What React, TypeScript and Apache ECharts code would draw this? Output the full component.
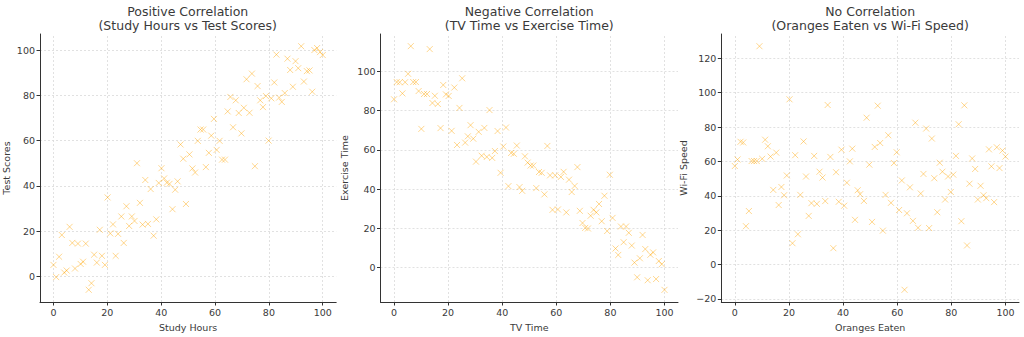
import React, { useEffect, useRef } from "react";
import * as echarts from "echarts";

// ---------- Data ----------
const studyHours = [
  0, 1, 2.1, 3.1, 4, 4.9, 6, 7, 8, 9.1, 10.1, 11, 12, 13.1, 14.1, 15.1, 16.1, 17.2, 18, 19.1,
  20.1, 21.1, 22.1, 23.1, 24, 25.2, 26.1, 27.1, 28.1, 29.1, 30.1, 31, 32.1, 33.1, 34.1, 35.1, 36.1, 37.2, 38.2, 39.1,
  40.1, 41.1, 42.1, 43.1, 44.2, 45.2, 46.1, 47.2, 48.2, 49.2, 50.5, 51.6, 52.6, 53.6, 54.6, 55.6, 56.6, 57.7, 58.6, 59.6,
  60.6, 61.7, 62.6, 63.7, 64.7, 65.7, 66.7, 67.7, 68.8, 69.8, 70.7, 71.7, 72.8, 73.7, 74.8, 75.8, 76.8, 77.8, 78.9, 79.9,
  80.9, 82, 82.8, 83.8, 84.8, 85.9, 86.9, 87.9, 88.9, 89.9, 90.9, 92, 93, 94.1, 95.1, 96.1, 96.9, 97.9, 99, 100,
];
const testScores = [
  5.1, -0.3, 8.7, 18.3, 1.7, 2.6, 21.9, 14.8, 3.5, 14.5, 5.5, 6.5, 14.5, -5.9, -3, 9.6, 6.1, 20.6, 9.1, 5.1,
  34.9, 19, 23, 9.1, 18.8, 26.5, 14.8, 31, 22.3, 26.5, 24.5, 50, 32.5, 22.9, 42.6, 23.2, 38.6, 18, 25.2, 41.3,
  47.8, 43.3, 41.4, 40.9, 29.7, 38.3, 42, 58.3, 52, 32, 53.9, 47.7, 45.9, 59.9, 64.9, 64.9, 48.3, 54.6, 62.2, 69.6,
  55.9, 59.9, 51.6, 51.6, 72.9, 79.3, 65.9, 77.8, 72.2, 63.2, 74.5, 87.1, 72.3, 89.6, 48.7, 84.1, 77.8, 74.8, 79.7, 60,
  78.7, 85.7, 98, 79, 77.1, 81, 96.2, 91.2, 83.8, 95.1, 92, 101.7, 86.1, 90.7, 91, 81.6, 100, 100.9, 99.1, 97.8,
];

const tvTime = [
  0, 1, 2.1, 3.1, 4.1, 5.2, 6.2, 7.1, 8.1, 9.1, 10.1, 11.1, 12.2, 13.2, 14.2, 15.1, 16.2, 17.2, 18.2, 19.2,
  20.2, 21.3, 22.3, 23.3, 24.2, 25.2, 26.3, 27.3, 28.3, 29.3, 30.3, 31.3, 32.4, 33.4, 34.3, 35.3, 36.3, 37.3, 38.3, 39.4,
  40.4, 41.4, 42.3, 43.3, 44.3, 45.4, 46.4, 47.4, 48.4, 49.4, 50.5, 51.5, 52.6, 53.6, 54.6, 55.6, 56.7, 57.7, 58.6, 59.6,
  60.6, 61.7, 62.7, 63.7, 64.7, 65.7, 66.8, 67.8, 68.7, 69.7, 70.7, 71.7, 72.7, 73.8, 74.8, 75.8, 76.8, 77.8, 78.8, 79.8,
  80.8, 81.9, 82.9, 83.9, 84.9, 85.8, 86.8, 87.9, 88.9, 89.9, 90.9, 91.9, 92.9, 93.8, 94.8, 95.8, 96.9, 97.9, 99, 100,
];
const exerciseTime = [
  85.8, 94.6, 94.5, 88.8, 94.5, 98.8, 112.9, 94.6, 94.6, 90, 70.7, 88.5, 88.5, 111.4, 83.9, 87.6, 83.4, 71.1, 93.1, 88.3,
  87.5, 69.7, 91.8, 62.5, 81.4, 96.5, 63.7, 66.9, 72.6, 65.7, 54, 69.2, 57, 71.2, 56.4, 80.3, 55.9, 59.4, 69.6, 48.3,
  61.7, 71.4, 41.5, 58.4, 58, 62.2, 41, 39.1, 56.7, 53.5, 52, 52, 40.5, 48.7, 48.3, 37.3, 62, 47, 29.4, 47,
  29.6, 46.2, 48.8, 28.1, 44.8, 38.5, 41.6, 51.2, 28.9, 22.7, 20.2, 19.9, 26.4, 29.4, 28.1, 32.4, 23.6, 36.6, 18.6, 47.3,
  25.3, 9.7, 6.4, 20.9, 12.9, 20.9, 17.7, 11.2, 2.5, -5, 4.7, 16.6, 9.4, -6.5, 6.5, 7.7, -5.9, 3.3, 1.7, -11.4,
];

const orangesEaten = [
  0, 1, 2.1, 3.1, 4.1, 5.2, 6.2, 7.1, 8.1, 9.1, 10.1, 11.2, 12.2, 13.2, 14.2, 15.3, 16.2, 17.2, 18.2, 19.2,
  20.2, 21.3, 22.3, 23.3, 24.2, 25.4, 26.3, 27.3, 28.3, 29.3, 30.3, 31.3, 32.4, 33.4, 34.3, 35.3, 36.4, 37.4, 38.4, 39.4,
  40.4, 41.4, 42.5, 43.4, 44.4, 45.4, 46.3, 47.7, 48.7, 49.7, 50.7, 51.7, 52.8, 53.7, 54.7, 55.7, 56.7, 57.7, 58.8, 59.8,
  60.7, 61.7, 62.7, 63.6, 64.7, 65.8, 66.7, 67.7, 68.7, 69.7, 70.7, 71.8, 72.8, 73.7, 74.8, 75.7, 76.7, 77.7, 78.8, 79.8,
  80.7, 81.7, 82.7, 83.7, 84.8, 85.8, 86.7, 87.7, 88.8, 89.8, 90.8, 91.9, 92.9, 93.9, 94.8, 95.8, 96.8, 97.8, 98.9, 100,
];
const wifiSpeed = [
  57.3, 61.1, 71.4, 71, 22.3, 31.1, 60.2, 60.2, 60.2, 127, 61.5, 72.6, 68.8, 62.8, 43.4, 65.1, 34.6, 45.1, 40.3, 51.8,
  96.1, 12.4, 63.6, 17.6, 40.5, 71.6, 51.2, 28.3, 35.7, 63.2, 35.3, 54, 50.6, 36.9, 92.8, 62.6, 9.5, 53.7, 36.5, 66.8,
  34.2, 47.6, 60, 67.4, 26, 43.2, 40.9, 37, 85.4, 58.1, 24.8, 68.4, 92.4, 70.7, 19.7, 40.5, 75.2, 35.9, 59, 65.3,
  31.7, 48.9, -14.7, 29.8, 44.9, 25.4, 82.5, 21.4, 41.3, 52.7, 79.1, 21.2, 73.3, 50.2, 30.4, 59.2, 54, 37.8, 51.2, 42.2,
  52.3, 63.2, 81.6, 25.2, 92.6, 11.1, 47, 61.7, 55.6, 37.8, 45.8, 40.3, 38.6, 67, 57.1, 36.3, 68.2, 56.1, 66.3, 62.8,
];

const xTicks = [0, 20, 40, 60, 80, 100];
const scoreTicks = [0, 20, 40, 60, 80, 100];
const exerciseTicks = [0, 20, 40, 60, 80, 100];
const wifiTicks = [-20, 0, 20, 40, 60, 80, 100, 120];

const titles = [
  "Positive Correlation\n(Study Hours vs Test Scores)",
  "Negative Correlation\n(TV Time vs Exercise Time)",
  "No Correlation\n(Oranges Eaten vs Wi-Fi Speed)",
];
const xNames = ["Study Hours", "TV Time", "Oranges Eaten"];
const yNames = ["Test Scores", "Exercise Time", "Wi-Fi Speed"];

// ---------- Layout ----------
const panels = [
  { left: 39.2, width: 297, xs: studyHours, ys: testScores, yTicks: scoreTicks, yMin: -11.3, yMax: 107.1, yGap: 29 },
  { left: 380.5, width: 297.5, xs: tvTime, ys: exerciseTime, yTicks: exerciseTicks, yMin: -17.6, yMax: 119.1, yGap: 31 },
  { left: 721.3, width: 297.7, xs: orangesEaten, ys: wifiSpeed, yTicks: wifiTicks, yMin: -21.8, yMax: 134.1, yGap: 33 },
];
const TOP = 34;
const HEIGHT = 272;
const TEXT = "#3a3a3a";
const AXIS = "#333333";
const FONT = "DejaVu Sans";
const MARK = "rgba(255,165,0,0.55)";

const fmt = (v: number) => (v < 0 ? "\u2212" + Math.abs(v) : String(v));

function buildOption() {
  const grid: any[] = [];
  const xAxis: any[] = [];
  const yAxis: any[] = [];
  const series: any[] = [];
  const title: any[] = [];

  panels.forEach((p, i) => {
    grid.push({ left: p.left, top: TOP, width: p.width, height: HEIGHT, containLabel: false });
    title.push({
      text: titles[i],
      left: p.left + p.width / 2,
      top: 4,
      padding: 0,
      textAlign: "center",
      textStyle: { fontFamily: FONT, fontSize: 12.5, fontWeight: "normal", color: TEXT, lineHeight: 14.5 },
    });
    xAxis.push({
      type: "value",
      gridIndex: i,
      min: -5,
      max: 105,
      name: xNames[i],
      nameLocation: "middle",
      nameGap: 20,
      nameTextStyle: { fontFamily: FONT, fontSize: 9.5, color: TEXT },
      axisLine: { show: true, onZero: false, lineStyle: { color: AXIS, width: 1 } },
      axisTick: { show: true, length: 3.5, lineStyle: { color: AXIS }, customValues: xTicks },
      axisLabel: { fontFamily: FONT, fontSize: 9.5, color: TEXT, margin: 5, customValues: xTicks, formatter: fmt },
      splitLine: { show: false },
    });
    yAxis.push({
      type: "value",
      gridIndex: i,
      min: p.yMin,
      max: p.yMax,
      name: yNames[i],
      nameLocation: "middle",
      nameGap: p.yGap,
      nameTextStyle: { fontFamily: FONT, fontSize: 9.5, color: TEXT },
      axisLine: { show: true, onZero: false, lineStyle: { color: AXIS, width: 1 } },
      axisTick: { show: true, length: 3.5, lineStyle: { color: AXIS }, customValues: p.yTicks },
      axisLabel: { fontFamily: FONT, fontSize: 9.5, color: TEXT, margin: 5, customValues: p.yTicks, formatter: fmt },
      splitLine: { show: false },
    });
    // grid lines drawn through the library's scales
    series.push({
      type: "line",
      xAxisIndex: i,
      yAxisIndex: i,
      data: [],
      z: 0,
      silent: true,
      markLine: {
        z: 0,
        silent: true,
        symbol: "none",
        label: { show: false },
        animation: false,
        lineStyle: { color: "#d9d9d9", width: 0.8, type: [2, 2] },
        emphasis: { disabled: true },
        data: [
          ...xTicks.map((v) => ({ xAxis: v })),
          ...p.yTicks.map((v) => ({ yAxis: v })),
        ],
      },
    });
    series.push({
      type: "scatter",
      xAxisIndex: i,
      yAxisIndex: i,
      z: 3,
      symbol: "path://M0,0L10,10M10,0L0,10",
      symbolSize: 6,
      itemStyle: { color: "transparent", borderColor: MARK, borderWidth: 1 },
      data: p.xs.map((x, k) => [x, p.ys[k]]),
    });
  });

  return { animation: false, backgroundColor: "#ffffff", title, grid, xAxis, yAxis, series };
}

export default function App() {
  const ref = useRef<HTMLDivElement>(null);
  useEffect(() => {
    const chart = echarts.init(ref.current!, null, { renderer: "svg" });
    chart.setOption(buildOption() as any);
    return () => chart.dispose();
  }, []);
  return (
    <div
      ref={ref}
      style={{ position: "fixed", left: 0, top: 0, width: 1024, height: 337, background: "#fff" }}
    />
  );
}
